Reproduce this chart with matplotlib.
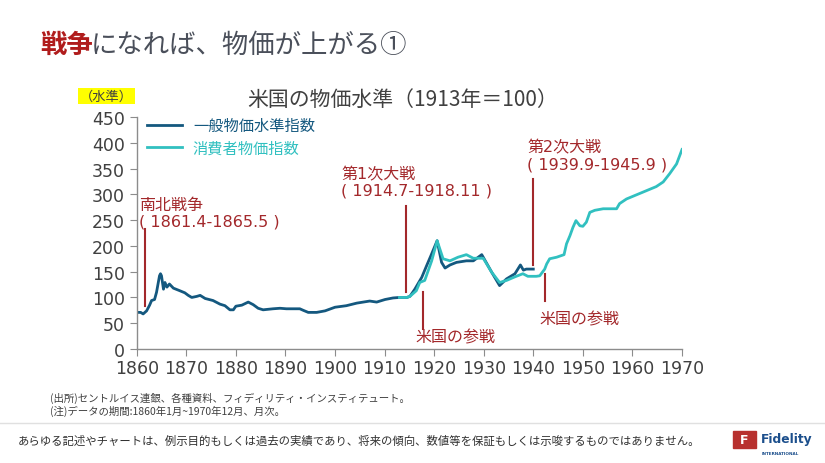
import numpy as np
import matplotlib
matplotlib.use('Agg')
import matplotlib.pyplot as plt

plt.rcParams['font.family'] = ['Noto Sans CJK JP', 'DejaVu Sans']

# 一般物価水準指数 (1860-1940)
gen_years = [1860.0, 1860.8, 1861.3, 1862.0, 1862.6, 1863.0, 1863.6, 1864.0, 1864.6,
             1864.8, 1865.0, 1865.4, 1865.7, 1866.1, 1866.6, 1867.4, 1868.7, 1869.7,
             1870.4, 1871.1, 1872.1, 1872.8, 1873.8, 1875.4, 1876.8, 1877.8, 1878.8,
             1879.5, 1880.0, 1881.2, 1882.5, 1883.5, 1884.5, 1885.5, 1887.5, 1888.9,
             1890.2, 1892.9, 1893.6, 1894.6, 1896.3, 1898.0, 1900.0, 1902.3, 1904.4,
             1907.0, 1908.4, 1910.1, 1911.7, 1913.0, 1914.5, 1915.1, 1916.1, 1917.5,
             1918.5, 1919.3, 1920.6, 1921.5, 1922.2, 1923.2, 1924.5, 1926.5, 1927.9,
             1929.6, 1929.9, 1931.6, 1933.2, 1934.6, 1936.3, 1937.4, 1938.0, 1938.6,
             1940.0]
gen_vals = [71, 71, 68, 74, 85, 94, 96, 110, 142,
            146, 142, 116, 129, 120, 126, 118, 113, 109,
            104, 100, 102, 104, 98, 94, 87, 84, 76,
            76, 83, 85, 91, 86, 79, 76, 78, 79,
            78, 78, 75, 71, 71, 74, 81, 84, 89,
            93, 91, 96, 99, 100, 100, 102, 116, 139,
            162, 180, 210, 168, 157, 163, 168, 171, 171,
            183, 178, 149, 123, 136, 146, 163, 153, 155,
            155]

# 消費者物価指数 (1913-1970)
cpi_years = [1913.0, 1914.5, 1915.1, 1916.4, 1917.1, 1918.1, 1919.5, 1920.6, 1921.8,
             1923.2, 1924.8, 1926.5, 1927.9, 1929.9, 1931.6, 1933.2, 1934.6, 1936.3,
             1937.9, 1938.9, 1940.6, 1941.3, 1942.3, 1942.7, 1943.3, 1944.7, 1946.2,
             1946.7, 1947.4, 1948.0, 1948.6, 1949.4, 1950.0, 1950.7, 1951.4, 1952.4,
             1954.1, 1955.8, 1956.8, 1957.4, 1958.8, 1960.8, 1962.8, 1964.8, 1966.2,
             1967.5, 1968.9, 1970.0]
cpi_vals = [100, 100, 102, 113, 129, 133, 171, 210, 175,
            171, 178, 183, 176, 176, 149, 129, 133, 140,
            146, 141, 141, 142, 155, 165, 175, 178, 183,
            204, 220, 236, 249, 239, 238, 246, 265, 269,
            272, 272, 272, 282, 291, 299, 307, 315, 324,
            340, 359, 387]

# イベント注記: 線の位置(年, 下端, 上端) とラベル位置
ev_line_x = [1861.7, 1914.3, 1917.7, 1940.0, 1942.3]
ev_line_lo = [84, 110, 39, 162, 94]
ev_line_hi = [233, 278, 110, 330, 146]
ev_labels = ['南北戦争\n( 1861.4-1865.5 )', '第1次大戦\n( 1914.7-1918.11 )', '米国の参戦',
             '第2次大戦\n( 1939.9-1945.9 )', '米国の参戦']
ev_text_x = [1860.5, 1901.3, 1916.3, 1938.8, 1941.2]
ev_text_y = [264, 324, 23, 375, 58]

x_ticks = list(range(1860, 1971, 10))
y_ticks = list(range(0, 451, 50))

dark = '#14587F'
cyan = '#31C0C0'
red = '#A3282B'
gray_txt = '#4A4F5A'

fig = plt.figure(figsize=(8.25, 4.64), dpi=100)
ax = fig.add_axes([0.1657, 0.2457, 0.661, 0.5])

ax.plot(gen_years, gen_vals, color=dark, lw=2.0, label='一般物価水準指数')
ax.plot(cpi_years, cpi_vals, color=cyan, lw=2.0, label='消費者物価指数')

for i in range(len(ev_line_x)):
    ax.plot([ev_line_x[i], ev_line_x[i]], [ev_line_lo[i], ev_line_hi[i]], color=red, lw=1.5)
    ax.text(ev_text_x[i], ev_text_y[i], ev_labels[i], color=red, fontsize=11.5,
            ha='left', va='center', linespacing=1.15,
            family=['DejaVu Sans', 'Noto Sans CJK JP'])

ax.set_xlim(1860, 1970)
ax.set_ylim(0, 450)
ax.set_xticks(x_ticks)
ax.set_yticks(y_ticks)
for s in ['top', 'right']:
    ax.spines[s].set_visible(False)
for s in ['left', 'bottom']:
    ax.spines[s].set_color('#8C8C8C')
    ax.spines[s].set_linewidth(1.0)
ax.tick_params(axis='both', colors='#8C8C8C', labelcolor='#404040', labelsize=12.5, length=5)
ax.tick_params(axis='x', pad=2)
for lab in ax.get_xticklabels() + ax.get_yticklabels():
    lab.set_fontfamily('DejaVu Sans')

leg = ax.legend(loc='upper left', bbox_to_anchor=(0.019, 1.0), frameon=False, fontsize=11,
                handlelength=2.3, handletextpad=0.7, labelspacing=0.35,
                borderpad=0, borderaxespad=0)
for t, c in zip(leg.get_texts(), [dark, cyan]):
    t.set_color(c)

# タイトル類
fig.text(40 / 825, 1 - 45 / 464, '戦争', color='#B01C1C', fontsize=19, fontweight='bold',
         ha='left', va='center')
fig.text(91 / 825, 1 - 45 / 464, 'になれば、物価が上がる①', color=gray_txt, fontsize=19,
         ha='left', va='center')
fig.text(403 / 825, 1 - 100 / 464, '米国の物価水準（1913年＝100）', color='#404040', fontsize=15,
         ha='center', va='center')
fig.text(80 / 825, 1 - 97 / 464, '（水準）', color='#404040', fontsize=9.5, ha='left', va='center',
         bbox=dict(boxstyle='square,pad=0.12', fc='#FFFF00', ec='none'))

fig.text(50 / 825, 1 - 398 / 464, '(出所)セントルイス連銀、各種資料、フィディリティ・インスティテュート。',
         color='#404040', fontsize=7.5, ha='left', va='center')
fig.text(50 / 825, 1 - 411 / 464, '(注)データの期間:1860年1月~1970年12月、月次。',
         color='#404040', fontsize=7.5, ha='left', va='center')
fig.add_artist(plt.Line2D([0, 1], [1 - 424 / 464, 1 - 424 / 464], color='#E0E0E0', lw=1.0))
fig.text(18 / 825, 1 - 441 / 464,
         'あらゆる記述やチャートは、例示目的もしくは過去の実績であり、将来の傾向、数値等を保証もしくは示唆するものではありません。',
         color='#303030', fontsize=8.2, ha='left', va='center')

# ロゴ
fig.add_artist(plt.Rectangle((733 / 825, 1 - 449 / 464), 23 / 825, 17 / 464, color='#B8312F'))
fig.text(744.5 / 825, 1 - 440.5 / 464, 'F', color='white', fontsize=9, fontweight='bold',
         ha='center', va='center', family='DejaVu Sans')
fig.text(761 / 825, 1 - 440 / 464, 'Fidelity', color='#1C4F8C', fontsize=8.8, fontweight='bold',
         ha='left', va='center', family='DejaVu Sans')
fig.text(762 / 825, 1 - 454 / 464, 'INTERNATIONAL', color='#1C4F8C', fontsize=3, fontweight='bold',
         ha='left', va='center', family='DejaVu Sans')

fig.savefig('out.png', dpi=100)
